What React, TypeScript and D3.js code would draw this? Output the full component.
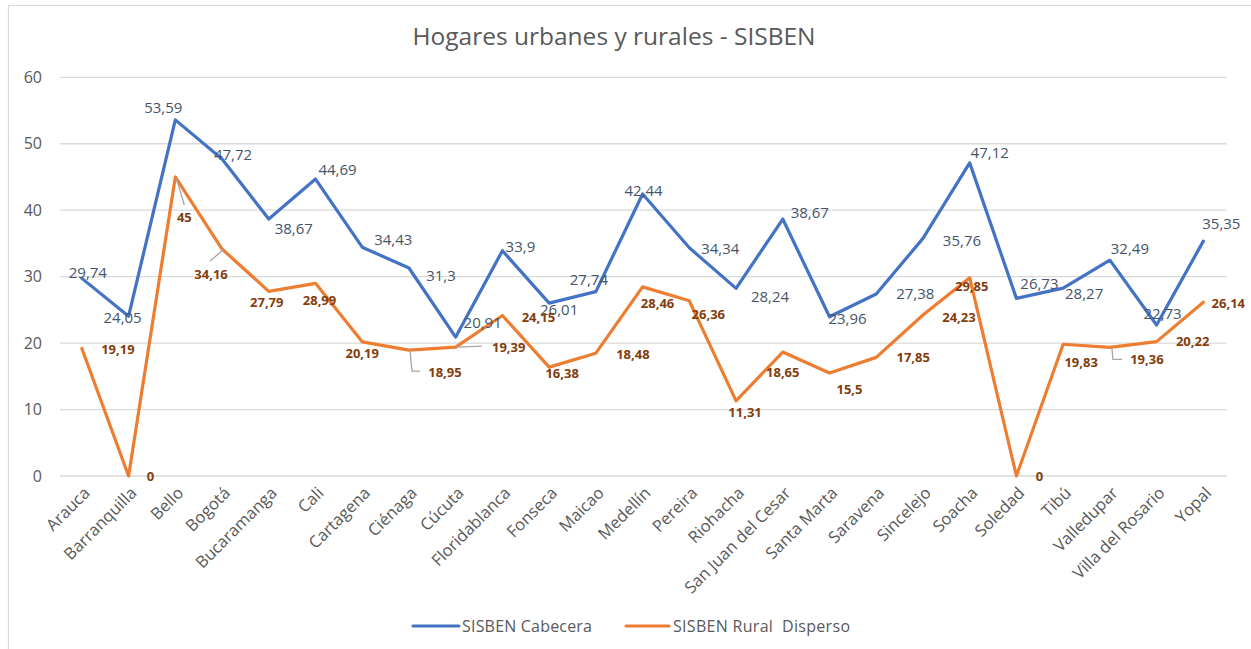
import React from "react";
import * as d3 from "d3";

const categories = [
  "Arauca", "Barranquilla", "Bello", "Bogotá", "Bucaramanga", "Cali", "Cartagena", "Ciénaga",
  "Cúcuta", "Floridablanca", "Fonseca", "Maicao", "Medellín", "Pereira", "Riohacha",
  "San Juan del Cesar", "Santa Marta", "Saravena", "Sincelejo", "Soacha", "Soledad", "Tibú",
  "Valledupar", "Villa del Rosario", "Yopal",
];

const cabecera = [
  29.74, 24.05, 53.59, 47.72, 38.67, 44.69, 34.43, 31.3, 20.91, 33.9, 26.01, 27.74, 42.44,
  34.34, 28.24, 38.67, 23.96, 27.38, 35.76, 47.12, 26.73, 28.27, 32.49, 22.73, 35.35,
];

const ruralDisperso = [
  19.19, 0, 45, 34.16, 27.79, 28.99, 20.19, 18.95, 19.39, 24.15, 16.38, 18.48, 28.46, 26.36,
  11.31, 18.65, 15.5, 17.85, 24.23, 29.85, 0, 19.83, 19.36, 20.22, 26.14,
];

const yTicks = [0, 10, 20, 30, 40, 50, 60];

const seriesNames = ["SISBEN Cabecera", "SISBEN Rural  Disperso"];
const title = "Hogares urbanes y rurales - SISBEN";

// label nudges (dx, dy) relative to each point
const blueNudge: [number, number][] = [
  [6, -6], [-6, 2], [-12, -12], [11, -4], [25, 10], [22, -9], [31, -7], [32, 8], [27, -14],
  [18, -4], [10, 7], [-7, -12], [1, -3], [31, 1], [34, 8], [27, -6], [18, 2], [39, 0], [39, 2],
  [20, -10], [23, -15], [21, 6], [20, -11], [6, -11], [18, -17],
];
const orangeNudge: [number, number][] = [
  [36, 1], [22, 0], [9, 40], [-11, 25], [-2, 11], [4, 17], [0, 12], [36, 22], [53, 0],
  [36, 2], [13, 6], [37, 1], [15, 17], [19, 14], [9, 12], [0, 20], [20, 16], [37, 0], [36, 2],
  [2, 9], [23, 0], [18, 18], [37, 12], [36, 0], [25, 1],
];
// leader lines (offsets from point)
const leaders: Record<string, [number, number][]> = {
  "Bello": [[1, 1], [9, 28]],
  "Bogotá": [[1, 1], [-12, 12]],
  "Ciénaga": [[1, 0], [3, 21], [11, 21]],
  "Cúcuta": [[1, 0], [26, -1]],
  "Valledupar": [[2, 0], [3, 12], [12, 12]],
};

const W = 1251;
const H = 649;
const BLUE = "#4472C4";
const ORANGE = "#ED7D31";
const FONT = "'Open Sans', 'Noto Sans', sans-serif";

export default function App() {
  const plotLeft = 58.5;
  const plotRight = 1226.7;
  const x = d3.scaleBand<string>().domain(categories).range([plotLeft, plotRight]).padding(0);
  const cx = (c: string) => (x(c) as number) + x.bandwidth() / 2;
  const y = d3.scaleLinear().domain([0, 60]).range([476, 77.3]);

  const line = d3
    .line<number>()
    .x((_, i) => cx(categories[i]))
    .y((d) => y(d));

  return (
    <svg
      width={W}
      height={H}
      style={{ position: "absolute", left: 0, top: 0, background: "#fff" }}
      fontFamily={FONT}
    >
      <rect x={0} y={0} width={W} height={H} fill="#fff" />
      <rect x={8.5} y={5.5} width={W + 20} height={H + 20} fill="none" stroke="#d9d9d9" strokeWidth={1.2} />
      <text x={614} y={45} textAnchor="middle" fontSize={24.5} fill="#595959">
        {title}
      </text>

      {yTicks.map((t) => (
        <g key={t}>
          <line x1={60} x2={plotRight} y1={y(t)} y2={y(t)} stroke="#d9d9d9" strokeWidth={1.3} />
          <text x={42} y={y(t)} dy="0.35em" textAnchor="end" fontSize={16} fill="#595959">
            {t}
          </text>
        </g>
      ))}

      {categories.map((c) => (
        <text
          key={c}
          transform={`translate(${cx(c) + 5},${490}) rotate(-45)`}
          textAnchor="end"
          dy="0.35em"
          fontSize={16.5}
          fill="#595959"
        >
          {c}
        </text>
      ))}

      <path d={line(cabecera) || ""} fill="none" stroke={BLUE} strokeWidth={3.2} strokeLinejoin="round" strokeLinecap="round" />
      <path d={line(ruralDisperso) || ""} fill="none" stroke={ORANGE} strokeWidth={3.2} strokeLinejoin="round" strokeLinecap="round" />

      {categories.map((c, i) => {
        const pts = leaders[c];
        if (!pts) return null;
        const px = cx(c);
        const py = y(ruralDisperso[i]);
        const d = d3.line()(pts.map(([dx, dy]) => [px + dx, py + dy]) as [number, number][]);
        return <path key={"l" + c} d={d || ""} fill="none" stroke="#a6a6a6" strokeWidth={1.3} />;
      })}

      {categories.map((c, i) => (
        <text
          key={"b" + c}
          x={cx(c) + blueNudge[i][0]}
          y={y(cabecera[i]) + blueNudge[i][1]}
          dy="0.35em"
          textAnchor="middle"
          fontSize={15}
          fill="#44546A"
        >
          {String(cabecera[i]).replace(".", ",")}
        </text>
      ))}

      {categories.map((c, i) => (
        <text
          key={"o" + c}
          x={cx(c) + orangeNudge[i][0]}
          y={y(ruralDisperso[i]) + orangeNudge[i][1]}
          dy="0.35em"
          textAnchor="middle"
          fontSize={13}
          fontWeight="bold"
          fill="#843C0C"
        >
          {String(ruralDisperso[i]).replace(".", ",")}
        </text>
      ))}

      <g>
        <line x1={413} x2={459} y1={626} y2={626} stroke={BLUE} strokeWidth={3.2} strokeLinecap="round" />
        <text x={462} y={626} dy="0.35em" fontSize={16} fill="#595959" textLength={130} lengthAdjust="spacing">
          {seriesNames[0]}
        </text>
        <line x1={626} x2={669} y1={626} y2={626} stroke={ORANGE} strokeWidth={3.2} strokeLinecap="round" />
        <text x={673} y={626} dy="0.35em" fontSize={16} fill="#595959" style={{ whiteSpace: "pre" }} textLength={177} lengthAdjust="spacing">
          {seriesNames[1]}
        </text>
      </g>
    </svg>
  );
}
